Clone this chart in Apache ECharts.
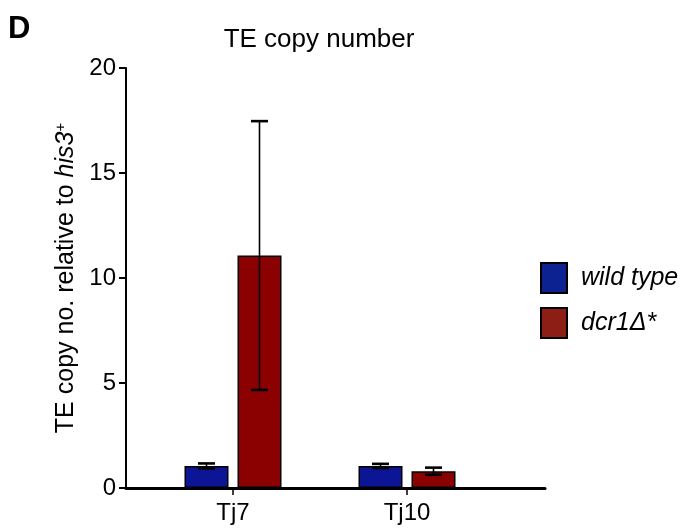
<!DOCTYPE html>
<html>
<head>
<meta charset="utf-8">
<script src="https://cdn.jsdelivr.net/npm/echarts@6/dist/echarts.min.js"></script>
<style>html,body{margin:0;padding:0;background:#fff}#c{width:686px;height:532px}</style>
</head>
<body>
<div id="c"></div>
<script>
const categories = ['Tj7', 'Tj10'];
const seriesNames = ['wild type', 'dcr1Δ*'];
const wildTypeMean = [1.05, 1.05];
const wildTypeErr = [0.12, 0.1];
const dcr1Mean = [11.07, 0.8];
const dcr1Err = [6.4, 0.17];
const yTicks = [0, 5, 10, 15, 20];

const FONT = 'Liberation Sans, Arial, Helvetica, sans-serif';
const BAR_W = 44, GAP = 9;
const barColors = ['#0b1596', '#8b0000'];
const legendColors = ['#0c2290', '#8d1e16'];

const chart = echarts.init(document.getElementById('c'), null, {renderer: 'canvas'});

function errRender(means, errs, idx) {
  return function (params, api) {
    const i = api.value(0);
    const m = means[i], e = errs[i];
    const center = api.coord([i, m]);
    const off = (idx - 0.5) * (BAR_W + GAP);
    const x = center[0] + off;
    const top = api.coord([i, m + e])[1];
    const bot = api.coord([i, m - e])[1];
    const cw = 8.5;
    const style = {stroke: '#000', lineWidth: 1.6};
    const capStyle = {stroke: '#000', lineWidth: 2.6};
    return {
      type: 'group',
      children: [
        {type: 'line', shape: {x1: x, y1: top, x2: x, y2: bot}, style: style},
        {type: 'line', shape: {x1: x - cw, y1: top, x2: x + cw, y2: top}, style: capStyle},
        {type: 'line', shape: {x1: x - cw, y1: bot, x2: x + cw, y2: bot}, style: capStyle}
      ]
    };
  };
}

const option = {
  animation: false,
  textStyle: {fontFamily: FONT},
  title: [
    {text: 'TE copy number', left: 314, top: 22, textAlign: 'center',
     textStyle: {fontFamily: FONT, fontSize: 26, fontWeight: 'normal', color: '#000'}},
    {text: 'D', left: 3, top: 9,
     textStyle: {fontFamily: FONT, fontSize: 31, fontWeight: 'bold', color: '#000'}}
  ],
  legend: {
    orient: 'vertical', left: 535, top: 257, itemGap: 13,
    itemWidth: 26, itemHeight: 30, icon: 'rect',
    textStyle: {fontFamily: FONT, fontSize: 25, fontStyle: 'italic', color: '#000', padding: [0, 0, 0, 9]},
    data: seriesNames.map((n, k) => ({name: n, itemStyle: {color: legendColors[k], borderColor: '#000', borderWidth: 2}}))
  },
  grid: [
    {left: 126, right: 141, top: 68, bottom: 44},
    {left: 146, right: 192, top: 68, bottom: 44}
  ],
  xAxis: [
    {gridIndex: 0, type: 'value', min: 0, max: 1, axisLine: {show: true, onZero: false, lineStyle: {color: '#000', width: 3}},
     axisTick: {show: false}, axisLabel: {show: false}, splitLine: {show: false}},
    {gridIndex: 1, type: 'category', data: categories, axisLine: {show: false},
     axisTick: {show: true, alignWithLabel: true, length: 7, lineStyle: {color: '#000', width: 1.5}},
     axisLabel: {fontFamily: FONT, fontSize: 24, color: '#000', margin: 13}}
  ],
  yAxis: [
    {gridIndex: 0, type: 'value', min: 0, max: 20, interval: 5,
     name: '{n|TE copy no. relative to }{i|his3}{s|+}', nameLocation: 'middle', nameGap: 41, nameRotate: 90,
     nameTextStyle: {rich: {
       n: {fontFamily: FONT, fontSize: 25, color: '#000'},
       i: {fontFamily: FONT, fontSize: 25, color: '#000', fontStyle: 'italic'},
       s: {fontFamily: FONT, fontSize: 15, color: '#000', padding: [0, 0, 10, 0]}
     }},
     axisLine: {show: true, lineStyle: {color: '#000', width: 2}},
     axisTick: {show: true, length: 7, lineStyle: {color: '#000', width: 2}},
     axisLabel: {fontFamily: FONT, fontSize: 24, color: '#000', margin: 10,
       formatter: v => yTicks.indexOf(v) >= 0 ? String(v) : ''},
     splitLine: {show: false}},
    {gridIndex: 1, type: 'value', min: 0, max: 20, interval: 5, show: false, splitLine: {show: false}}
  ],
  series: [
    {name: seriesNames[0], type: 'bar', xAxisIndex: 1, yAxisIndex: 1, data: wildTypeMean,
     barWidth: BAR_W, barGap: (GAP / BAR_W * 100) + '%',
     itemStyle: {color: barColors[0], borderColor: '#000', borderWidth: 1.5}},
    {name: seriesNames[1], type: 'bar', xAxisIndex: 1, yAxisIndex: 1, data: dcr1Mean,
     barWidth: BAR_W, barGap: (GAP / BAR_W * 100) + '%',
     itemStyle: {color: barColors[1], borderColor: '#000', borderWidth: 1.5}},
    {type: 'custom', xAxisIndex: 1, yAxisIndex: 1, z: 5, data: categories.map((c, i) => [i]),
     renderItem: errRender(wildTypeMean, wildTypeErr, 0)},
    {type: 'custom', xAxisIndex: 1, yAxisIndex: 1, z: 5, data: categories.map((c, i) => [i]),
     renderItem: errRender(dcr1Mean, dcr1Err, 1)}
  ]
};
chart.setOption(option);
</script>
</body>
</html>
